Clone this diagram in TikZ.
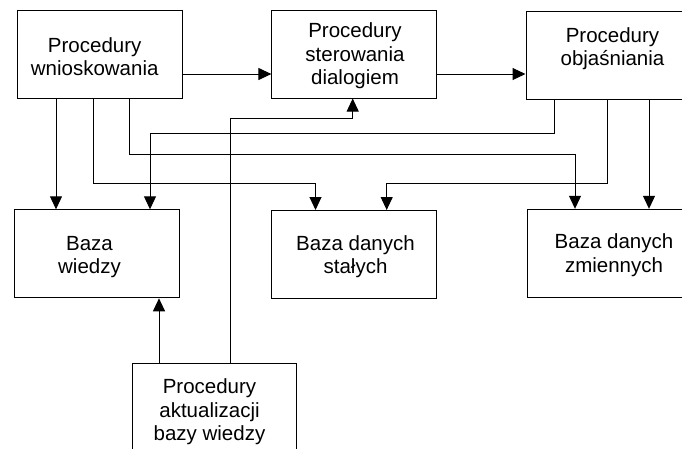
\documentclass[tikz,border=0pt]{standalone}
\usepackage{fontspec}
\setmainfont{Liberation Sans}
\usetikzlibrary{arrows.meta}

\tikzset{
  blk/.style={draw=black, line width=1pt, rectangle, inner sep=0pt,
              minimum width=#1, minimum height=88pt},
  blk/.default=165pt,
  lbl/.style={align=center, inner sep=0pt, font=\fontsize{20.5}{23.5}\selectfont},
  link/.style={draw=black, line width=1pt},
  arr/.style={link, -{Triangle[length=13pt,width=12pt]}},
}

\begin{document}
\begin{tikzpicture}[x=1pt, y=-1pt]
  \useasboundingbox (0,0) rectangle (682,448);
  \clip (0,0) rectangle (682,448);

  % boxes
  \node[blk]        (A) at (99.8,54.4)  {};
  \node[blk]        (B) at (354.4,54)   {};
  \node[blk=173pt]  (C) at (612.5,55)   {};
  \node[blk]        (W) at (96.5,253.8) {};
  \node[blk]        (S) at (353.5,254.5){};
  \node[blk=173pt]  (Z) at (614,253.3)  {};
  \node[blk=164.4pt](K) at (214.5,407.5){};

  % box texts
  \node[lbl] (At) at (94.7,56.5)  {Procedury\\wnioskowania};
  \node[lbl] (Bt) at (355,56)     {Procedury\\sterowania\\dialogiem};
  \node[lbl] (Ct) at (612.5,48.8) {Procedury\\objaśniania};
  \node[lbl] (Wt) at (89.5,257)   {Baza\\wiedzy};
  \node[lbl] (St) at (355.5,256.5){Baza danych\\stałych};
  \node[lbl] (Zt) at (614,255.3)  {Baza danych\\zmiennych};
  \node[lbl] (Kt) at (209.5,411.7){Procedury\\aktualizacji\\bazy wiedzy};

  % routing levels and columns
  \coordinate (h0) at (0,74);
  \coordinate (h1) at (0,118.3);
  \coordinate (h2) at (0,133.3);
  \coordinate (h3) at (0,154.7);
  \coordinate (h4) at (0,183.3);
  \coordinate (a1) at (56,0);
  \coordinate (a2) at (93.5,0);
  \coordinate (a3) at (129.5,0);
  \coordinate (c1) at (554,0);
  \coordinate (c2) at (607.5,0);
  \coordinate (c3) at (649,0);
  \coordinate (w2) at (150,0);
  \coordinate (s1) at (315.5,0);
  \coordinate (s2) at (386.7,0);
  \coordinate (z1) at (575,0);
  \coordinate (b1) at (352.7,0);
  \coordinate (k1) at (159,0);
  \coordinate (k2) at (230,0);

  % top row
  \draw[arr] (A.east |- h0) -- (B.west |- h0);
  \draw[arr] (B.east |- h0) -- (C.west |- h0);

  % from the inference procedures
  \draw[arr] (A.south -| a1) -- (W.north -| a1);
  \draw[arr] (A.south -| a2) -- (a2 |- h4) -- (s1 |- h4) -- (S.north -| s1);
  \draw[arr] (A.south -| a3) -- (a3 |- h3) -- (z1 |- h3) -- (Z.north -| z1);

  % from the explanation procedures
  \draw[arr] (C.south -| c1) -- (c1 |- h2) -- (w2 |- h2) -- (W.north -| w2);
  \draw[arr] (C.south -| c2) -- (c2 |- h4) -- (s2 |- h4) -- (S.north -| s2);
  \draw[arr] (C.south -| c3) -- (Z.north -| c3);

  % from the knowledge base update procedures
  \draw[arr] (K.north -| k2) -- (k2 |- h1) -- (b1 |- h1) -- (B.south -| b1);
  \draw[arr] (K.north -| k1) -- (W.south -| k1);
\end{tikzpicture}
\end{document}
